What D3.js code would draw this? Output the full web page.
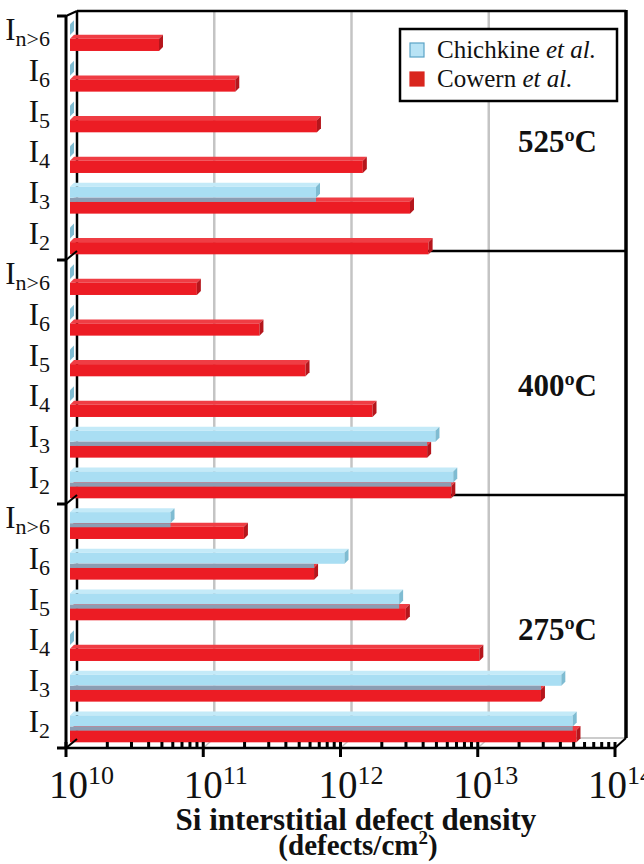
<!DOCTYPE html>
<html>
<head>
<meta charset="utf-8">
<script src="https://cdn.jsdelivr.net/npm/d3@7"></script>
<style>
  html, body { margin: 0; padding: 0; background: #fff; }
  svg { display: block; }
  text { font-family: "Liberation Serif", "Times New Roman", serif; fill: #111; }
</style>
</head>
<body>
<svg id="chart" width="644" height="864"></svg>
<script>
// ---------------- data ----------------
const categories = ["n>6", "6", "5", "4", "3", "2"];
const temperatures = ["525ºC", "400ºC", "275ºC"];
const seriesNames = ["Chichkine", "Cowern"];

const chichkine525 = [1e10, 1e10, 1e10, 1e10, 6.2e11, 1e10];
const cowern525    = [4.45e10, 1.6e11, 6.3e11, 1.36e12, 3.0e12, 4.1e12];
const chichkine400 = [1e10, 1e10, 1e10, 1e10, 4.6e12, 6.2e12];
const cowern400    = [8.4e10, 2.4e11, 5.2e11, 1.6e12, 4.0e12, 6.0e12];
const chichkine275 = [5.4e10, 1.0e12, 2.5e12, 1e10, 3.8e13, 4.6e13];
const cowern275    = [1.85e11, 6.0e11, 2.8e12, 9.6e12, 2.7e13, 4.9e13];

const xTickExponents = [10, 11, 12, 13, 14];

// ---------------- layout ----------------
const svg = d3.select("#chart");
const panels = [
  { temp: temperatures[0], chich: chichkine525, cow: cowern525 },
  { temp: temperatures[1], chich: chichkine400, cow: cowern400 },
  { temp: temperatures[2], chich: chichkine275, cow: cowern275 }
];

const depthX = 11, depthY = 9;           // wall depth
const barDX = 4, barDY = 4;              // bar 3D depth
const xFront = d3.scaleLog().domain([1e10, 1e14]).range([66, 615]);
const xBar = d3.scaleLog().domain([1e10, 1e14]).range([70, 619]);
const panelY = d3.scaleLinear().domain([0, 3]).range([16, 748]);
const backLeft = xFront(1e10) + depthX, backRight = xFront(1e14) + depthX + 0;
const backTop = 11, backBottom = panelY(3) - depthY - 1;

// back wall
svg.append("rect").attr("x", backLeft).attr("y", backTop)
  .attr("width", backRight - backLeft).attr("height", backBottom - backTop)
  .attr("fill", "#fff");

// grid lines on back wall
const gridVals = [1e11, 1e12, 1e13];
gridVals.forEach(v => {
  svg.append("line").attr("x1", xFront(v) + depthX).attr("x2", xFront(v) + depthX)
    .attr("y1", backTop).attr("y2", backBottom)
    .attr("stroke", "#c4c4c4").attr("stroke-width", 2.5);
  svg.append("line").attr("x1", xFront(v)).attr("y1", panelY(3))
    .attr("x2", xFront(v) + depthX).attr("y2", backBottom)
    .attr("stroke", "#c4c4c4").attr("stroke-width", 1.5);
});

// floor back edge
svg.append("line").attr("x1", backLeft).attr("x2", backRight)
  .attr("y1", backBottom).attr("y2", backBottom)
  .attr("stroke", "#bbb").attr("stroke-width", 1.5);

// panel separators on back wall
[0, 1, 2].forEach(i => {
  const y = Math.max(panelY(i) - depthY, backTop);
  svg.append("line").attr("x1", backLeft).attr("x2", backRight)
    .attr("y1", y).attr("y2", y).attr("stroke", "#000").attr("stroke-width", 2.5);
});
// left & right back edges
svg.append("line").attr("x1", backLeft).attr("x2", backLeft)
  .attr("y1", backTop).attr("y2", backBottom).attr("stroke", "#000").attr("stroke-width", 2.5);
svg.append("line").attr("x1", backRight).attr("x2", backRight)
  .attr("y1", backTop - 1).attr("y2", backBottom).attr("stroke", "#000").attr("stroke-width", 3.5);
svg.append("line").attr("x1", xFront(1e14)).attr("y1", panelY(3))
  .attr("x2", backRight).attr("y2", backBottom).attr("stroke", "#000").attr("stroke-width", 2);

// ---------------- bars ----------------
const colors = {
  Chichkine: { front: "#a9def3", top: "#c4eaf8", side: "#7fbcd2" },
  Cowern:    { front: "#ec1c24", top: "#ef3d44", side: "#b5161c" }
};

function bar3d(g, x0, x1, y, h, c) {
  g.append("polygon")
    .attr("points", [[x0, y], [x1, y], [x1 + barDX, y - barDY], [x0 + barDX, y - barDY]].join(" "))
    .attr("fill", c.top);
  g.append("rect").attr("x", x0).attr("y", y).attr("width", Math.max(0, x1 - x0)).attr("height", h)
    .attr("fill", c.front);
  g.append("polygon")
    .attr("points", [[x1, y], [x1 + barDX, y - barDY], [x1 + barDX, y + h - barDY], [x1, y + h]].join(" "))
    .attr("fill", c.side);
}

panels.forEach((p, pi) => {
  const band = d3.scaleBand().domain(categories).range([panelY(pi), panelY(pi + 1)]);
  const bw = band.bandwidth();
  const g = svg.append("g");
  categories.forEach((cat, ci) => {
    const b = band(cat);
    // Cowern (red) below
    const rTop = b + bw * 0.56, rH = bw * 0.30;
    bar3d(g, xBar(1e10), xBar(p.cow[ci]), rTop, rH, colors.Cowern);
    // Chichkine (blue) above
    const bTop = b + bw * 0.2, bH = bw * 0.27;
    bar3d(g, xBar(1e10), xBar(p.chich[ci]), bTop, bH, colors.Chichkine);
    // shadow of blue bar on red top face
    const shadowEnd = Math.min(xBar(p.chich[ci]), xBar(p.cow[ci]));
    if (shadowEnd > xBar(1e10) + 1) {
      g.append("rect").attr("x", xBar(1e10)).attr("y", rTop - barDY + 0.5)
        .attr("width", shadowEnd - xBar(1e10)).attr("height", barDY)
        .attr("fill", "#8c9db3");
    }
    // y label
    const t = svg.append("text").attr("x", 50).attr("y", b + bw / 2 + 4)
      .attr("text-anchor", "end").attr("font-size", 31);
    t.append("tspan").text("I");
    t.append("tspan").attr("font-size", 22).attr("dy", 6).text(cat);
  });
  // temperature label
  svg.append("text").attr("x", 597).attr("y", panelY(pi) + 136)
    .attr("text-anchor", "end").attr("font-size", 31).attr("font-weight", "bold")
    .text(p.temp);
});

// ---------------- front axes ----------------
// left axis
svg.append("line").attr("x1", xFront(1e10)).attr("x2", xFront(1e10))
  .attr("y1", panelY(0)).attr("y2", panelY(3)).attr("stroke", "#000").attr("stroke-width", 3);
[0, 1, 2, 3].forEach(i => {
  const y = panelY(i);
  svg.append("line").attr("x1", 57).attr("x2", xFront(1e10))
    .attr("y1", y).attr("y2", y).attr("stroke", "#000").attr("stroke-width", 3);
  svg.append("line").attr("x1", xFront(1e10)).attr("y1", y)
    .attr("x2", backLeft).attr("y2", Math.max(y - depthY, backTop))
    .attr("stroke", "#000").attr("stroke-width", 2);
});
// bottom axis
svg.append("line").attr("x1", xFront(1e10)).attr("x2", xFront(1e14))
  .attr("y1", panelY(3)).attr("y2", panelY(3)).attr("stroke", "#000").attr("stroke-width", 2.5);
// minor ticks
const minor = [];
for (let e = 10; e < 14; e++) for (let m = 2; m <= 9; m++) minor.push(m * Math.pow(10, e));
minor.forEach(v => {
  svg.append("rect").attr("x", xFront(v) - 1.5).attr("y", panelY(3) - 6)
    .attr("width", 3).attr("height", 6).attr("fill", "#000");
});
xTickExponents.forEach(e => {
  const x = xFront(Math.pow(10, e));
  svg.append("line").attr("x1", x).attr("x2", x).attr("y1", panelY(3) - 6).attr("y2", panelY(3) + 9)
    .attr("stroke", "#000").attr("stroke-width", 3);
});
// tick labels
const labelX = d3.scaleLinear().domain([10, 14]).range([68, 607]);
xTickExponents.forEach(e => {
  const t = svg.append("text").attr("x", labelX(e) - 19).attr("y", 798)
    .attr("font-size", 39);
  t.append("tspan").text("10");
  t.append("tspan").attr("font-size", 26).attr("dy", -14).text(e);
});

// axis title
svg.append("text").attr("x", 356).attr("y", 830).attr("text-anchor", "middle")
  .attr("font-size", 31).attr("font-weight", "bold")
  .text("Si interstitial defect density");
const t2 = svg.append("text").attr("x", 358).attr("y", 855).attr("text-anchor", "middle")
  .attr("font-size", 29).attr("font-weight", "bold");
t2.append("tspan").text("(defects/cm");
t2.append("tspan").attr("font-size", 19).attr("dy", -11).text("2");
t2.append("tspan").attr("dy", 11).text(")");

// ---------------- legend ----------------
const lg = svg.append("g");
lg.append("rect").attr("x", 400).attr("y", 29).attr("width", 217).attr("height", 72)
  .attr("fill", "#fff").attr("stroke", "#000").attr("stroke-width", 2.5);
const legendItems = [
  { name: seriesNames[0], fill: "#b8e3f5", stroke: "#5aa3c6", y: 58 },
  { name: seriesNames[1], fill: "#d9261e", stroke: "#d9261e", y: 87 }
];
legendItems.forEach(it => {
  lg.append("rect").attr("x", 410).attr("y", it.y - 15).attr("width", 14).attr("height", 14)
    .attr("fill", it.fill).attr("stroke", it.stroke).attr("stroke-width", 1.2);
  const t = lg.append("text").attr("x", 437).attr("y", it.y).attr("font-size", 25);
  t.append("tspan").text(it.name + " ");
  t.append("tspan").attr("font-style", "italic").text("et al.");
});
</script>
</body>
</html>
